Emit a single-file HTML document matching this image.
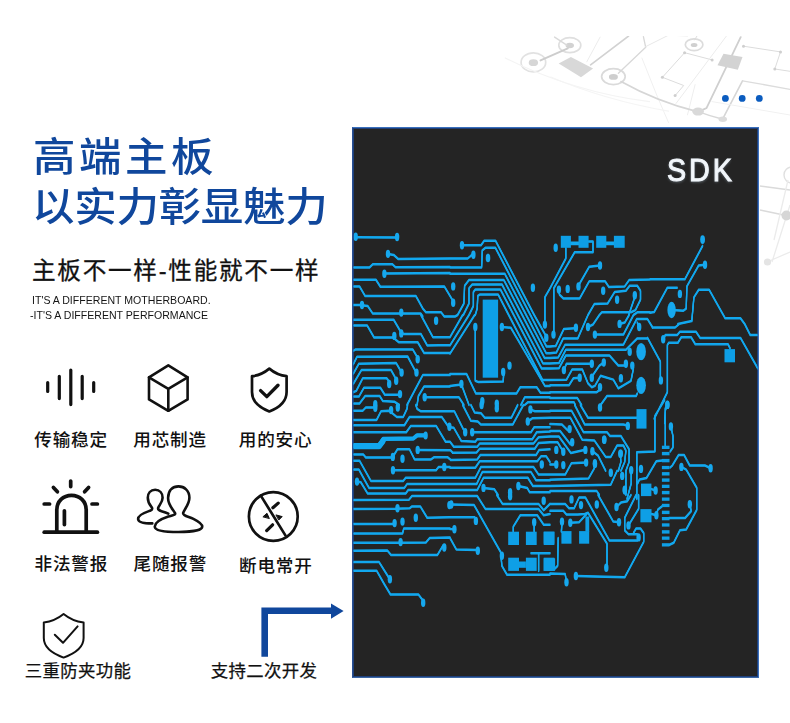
<!DOCTYPE html>
<html lang="zh-CN">
<head>
<meta charset="utf-8">
<title>高端主板</title>
<style>
html,body{margin:0;padding:0;background:#fff;}
body{width:790px;height:723px;position:relative;overflow:hidden;font-family:"Liberation Sans","Noto Sans CJK SC",sans-serif;color:#111;}
.abs{position:absolute;white-space:nowrap;}
.title{color:#10479c;font-size:39.5px;font-weight:500;line-height:44px;transform:scaleX(1.075);transform-origin:0 50%;}
#t1{left:32.8px;top:135px;letter-spacing:3.3px;}
#t2{left:32.2px;top:185px;letter-spacing:-0.25px;}
#sub{left:32px;top:255.6px;font-size:23.6px;font-weight:400;-webkit-text-stroke:0.3px #111;line-height:30px;color:#111;letter-spacing:1.75px;}
.en{font-size:11.2px;line-height:12px;color:#151515;transform:scaleX(0.945);transform-origin:0 0;}
#en1{left:32px;top:294px;}
#en2{left:30px;top:309px;}
.lab{font-size:17.6px;line-height:20px;font-weight:500;color:#111;letter-spacing:0.8px;}
.lab2{font-weight:400;font-size:17.4px;letter-spacing:0.35px;-webkit-text-stroke:0.25px #111;}
#panel{left:352px;top:127px;width:407px;height:551px;background:#242424;box-sizing:border-box;border:1px solid #3a70bd;border-left-color:#274f94;border-bottom-color:#3b67a6;box-shadow:inset 0 0 0 1px #1f3f78;}
#sdk{left:667px;top:152.6px;-webkit-text-stroke:1px #f1f6fb;font-size:31px;line-height:36px;color:#f2f6fa;letter-spacing:3.2px;font-weight:400;text-shadow:0 1px 3px rgba(200,225,245,.45);transform-origin:0 0;transform:scaleX(0.925);}
svg{position:absolute;left:0;top:0;overflow:visible;}
.ic{fill:none;stroke:#111;stroke-linecap:round;stroke-linejoin:round;}
</style>
</head>
<body>
<!--BG--><svg width="790" height="723" viewBox="0 0 790 723" id="bg" style="filter:blur(0.7px)">
<defs><clipPath id="bgc"><rect x="480" y="36" width="310" height="300"/></clipPath></defs><g clip-path="url(#bgc)">
<g fill="none" stroke="#dcdcdc" stroke-width="1.3" stroke-linecap="round">
<ellipse cx="533.4" cy="62.4" rx="12.3" ry="9.5" stroke="#e2e2e2" stroke-width="1.7"/>
<ellipse cx="533.4" cy="62.7" rx="4.674" ry="3.42" fill="#d6d6d6" stroke="none"/>
<ellipse cx="569.8" cy="45.2" rx="11" ry="7.5" stroke="#dfdfdf" stroke-width="1.7"/>
<ellipse cx="569.8" cy="45.5" rx="4.18" ry="2.7" fill="#d2d2d2" stroke="none"/>
<ellipse cx="613.4" cy="76.6" rx="11.8" ry="8" stroke="#dadada" stroke-width="1.7"/>
<ellipse cx="613.4" cy="76.9" rx="4.484" ry="2.88" fill="#cecece" stroke="none"/>
<ellipse cx="694.1" cy="44.7" rx="8.8" ry="5.9" stroke="#dcdcdc" stroke-width="1.7"/>
<ellipse cx="694.1" cy="45" rx="3.344" ry="2.124" fill="#d0d0d0" stroke="none"/>
<path d="M540.5 60.4L567.8 48.3" stroke="#cdcdcd" stroke-width="1.9"/>
<path d="M554.6 37.1L566.8 45.2" stroke="#dadada" stroke-width="1.4"/>
<path d="M590.6 64.8L628.6 36" stroke="#d2d2d2" stroke-width="1.6"/>
<path d="M618.4 73.2L645.7 47.3L643.4 36.7" stroke="#d8d8d8"/>
<path d="M740.7 37.1L706.5 108.1L698.1 111.9" stroke="#cfcfcf" stroke-width="1.8"/>
<path d="M742.5 80.8L722.6 119.1" stroke="#d6d6d6" stroke-width="1.6"/>
<path d="M712.1 59.9L684.6 52.7L662.4 77.3L683.7 85.5L675.1 95.6" stroke="#dcdcdc" stroke-width="1"/>
<path d="M743.5 46.2L780.5 51.9L774.8 69L790 71.3" stroke="#dcdcdc" stroke-width="1"/>
<path d="M742.5 80.8L790 89.3" stroke="#dcdcdc" stroke-width="1.3"/>
<path d="M726.4 36.1L676 103.5" stroke="#ececec" stroke-width="1"/>
<path d="M712 101.6L790 115" stroke="#f1f1f1" stroke-width="1"/>
<path d="M697 36L694.5 40" stroke="#dddddd" stroke-width="1"/>
<path d="M645.7 46.6L668.5 35.2L687.5 36" stroke="#e8e8e8" stroke-width="1"/>
<path d="M600.1 37.1L586.8 61.8" stroke="#ececec" stroke-width="1"/>
<path d="M695.1 84.6L687.5 114.9" stroke="#eeeeee" stroke-width="1"/>
<path d="M641.9 58L657.1 96L668.5 122.5" stroke="#f0f0f0" stroke-width="1"/>
<path d="M621 81.5Q657.1 101.7 698.1 111.9" stroke="#d6d6d6" stroke-width="1.6"/>
<path d="M505.2 58Q573.6 92.2 649.5 101.7" stroke="#f4f4f4" stroke-width="1.2"/>
<path d="M550.8 77Q603.9 99.8 668.5 111.2" stroke="#f5f5f5" stroke-width="1.2"/>
<path d="M698.1 111.6Q710 116 722.8 119.2" stroke="#d8d8d8" stroke-width="1.4"/>
</g>
<polygon points="558.7,63.5 570.9,57 593.1,68.5 581,77.2" fill="#d8d8d8"/>
<polygon points="723.5,53.8 742.5,57 737.8,69.7 717.5,65.2" fill="#d3d3d3"/>
<ellipse cx="698.1" cy="111.6" rx="5.8" ry="4" fill="#d9d9d9"/>
<ellipse cx="722.8" cy="119.2" rx="4.2" ry="2.8" fill="#dcdcdc"/>
<circle cx="684.6" cy="52.7" r="1.5" fill="#cfcfcf"/>
<circle cx="712.1" cy="59.9" r="1.5" fill="#cfcfcf"/>
<circle cx="662.4" cy="77.3" r="1.5" fill="#cfcfcf"/>
<circle cx="675.1" cy="95.6" r="1.5" fill="#cfcfcf"/>
<circle cx="743.5" cy="46.2" r="1.5" fill="#cfcfcf"/>
<circle cx="780.5" cy="51.9" r="1.5" fill="#cfcfcf"/>
<circle cx="774.8" cy="69" r="1.5" fill="#cfcfcf"/>
<g fill="none" stroke="#e0e0e0" stroke-width="1.3">
<circle cx="792" cy="175" r="8" stroke="#e0e0e0" stroke-width="1.4"/>
<path d="M760 186L790 190M760 210L786 215.5" stroke="#dadada" stroke-width="1.5"/>
<path d="M788 180L774 240M790 205L772 262M767 262L790 252" stroke="#ebebeb"/>
</g>
<circle cx="786.5" cy="215.5" r="5" fill="#d6d6d6"/><circle cx="767.5" cy="262" r="3.6" fill="#e4e4e4"/>
</g></svg><!--/BG-->
<div class="abs title" id="t1">高端主板</div>
<div class="abs title" id="t2">以实力彰显魅力</div>
<div class="abs" id="sub">主板不一样-性能就不一样</div>
<div class="abs en" id="en1">IT'S A DIFFERENT MOTHERBOARD.</div>
<div class="abs en" id="en2">-IT'S A DIFFERENT PERFORMANCE</div>

<div class="abs lab" style="left:34.3px;top:429.5px;">传输稳定</div>
<div class="abs lab" style="left:133.3px;top:429.5px;">用芯制造</div>
<div class="abs lab" style="left:238.8px;top:429.5px;">用的安心</div>
<div class="abs lab" style="left:34.5px;top:554px;">非法警报</div>
<div class="abs lab" style="left:133.5px;top:554px;">尾随报警</div>
<div class="abs lab" style="left:239px;top:555.5px;">断电常开</div>
<div class="abs lab lab2" style="left:24.8px;top:660.8px;">三重防夹功能</div>
<div class="abs lab lab2" style="left:210.8px;top:660.8px;">支持二次开发</div>

<svg width="790" height="723" viewBox="0 0 790 723" id="icons">
 <!-- waveform -->
 <g class="ic" stroke-width="3.2">
  <path d="M47.7 382.5V391.5M59.3 376.3V398.6M70.8 370V404.6M82.2 376.3V398.6M93.7 382.5V391.5"/>
 </g>
 <!-- cube -->
 <g class="ic" stroke-width="2.6">
  <path d="M168.3 365.4L187.6 377.4V399.4L168.3 410.8L149 399.4V377.4Z"/>
  <path d="M149 377.4L168.3 388.8L187.6 377.4M168.3 388.8V410.8"/>
 </g>
 <!-- shield check -->
 <g class="ic" stroke-width="2.7">
  <path d="M269.3 368.6C264 373 258 375.6 252 376.2V392C252 401 259 407.5 269.3 411.5C279.6 407.5 286.6 401 286.6 392V376.2C280.6 375.6 274.6 373 269.3 368.6Z"/>
  <path d="M260.6 390.6L266.8 396.6L278 385.2" stroke-width="3.4"/>
 </g>
 <!-- alarm -->
 <g class="ic" stroke-width="3.7">
  <path d="M44.2 532.2H97.4"/>
  <path d="M56.8 532V510C56.8 501.4 63.2 495.3 71.5 495.3C79.8 495.3 86.2 501.4 86.2 510V532" stroke-linecap="butt"/>
  <path d="M64.4 510.8V524.6"/>
  <path d="M70.7 481V486.6M53.4 487.4L57.4 491.8M88.6 487.4L84.6 491.8M44.2 504H49.6M92 504H97.4"/>
 </g>
 <!-- people -->
 <g class="ic" stroke-width="2.6" id="people">
  <path d="M175.1 513.2C172.8 509.2 167.7 504.6 168.1 497.8C168.3 489.8 172.8 486.4 178.5 486.4C184.2 486.4 189.4 490.4 189.4 497.8C189.4 504.6 184.2 509.2 183.1 513.2C183.1 516.0 188.8 516.6 193.4 518.9C199.0 521.7 202.5 524.0 202.2 526.8C201.9 530.8 188.8 532.0 178.5 532.0C168.3 532.0 155.2 531.4 154.8 526.8C154.6 522.8 161.5 518.9 168.3 516.6C172.8 515.1 175.7 514.9 175.1 513.2Z"/>
  <path d="M152.3 523.4C145.5 523.4 138.1 522.3 138.1 518.9C138.1 514.3 146.6 512.0 150.6 510.5C152.9 509.7 152.3 508.0 151.4 506.9C148.9 504.0 147.8 501.2 147.8 497.8C147.8 493.2 150.6 489.8 155.2 489.8C159.7 489.8 162.6 493.2 162.6 497.8C162.6 501.8 159.7 504.6 158.3 507.5C157.5 509.2 159.2 510.5 161.5 511.2C164.3 512.0 166.6 512.8 168.3 513.7"/>
 </g>
 <!-- prohibition -->
 <g class="ic" stroke-width="2.7">
  <circle cx="273.3" cy="516.5" r="24.4"/>
  <path d="M260.8 495.6L285.4 535.4"/>
  <path d="M272.9 507.8L278.2 503.1M266.7 530.6L272.6 524.8" stroke-width="3.2"/>
  <path d="M263.2 516.6L267 513.3L269.2 518.2ZM276.3 515L282.2 516.6L279 519.8Z" fill="#111" stroke-width="1"/>
 </g>
 <!-- thin shield -->
 <g class="ic" stroke-width="2">
  <path d="M63.6 614C58 618.6 51 621.6 43.8 622.6V638C43.8 647 52 653.4 63.6 657.6C75.2 653.4 83.6 647 83.6 638V622.6C76.4 621.6 69.2 618.6 63.6 614Z"/>
  <path d="M54.8 634.8L63 642.8L77.6 626.4"/>
 </g>
 <!-- arrow -->
 <path d="M261.4 656.8V607.4H331V603.4L343.6 611L331 618.7V614.1H268V656.8Z" fill="#10479c"/>
 <!-- dots -->
 <g fill="#0b5cbf"><circle cx="725.4" cy="98.4" r="3.4"/><circle cx="742.2" cy="98.4" r="3.4"/><circle cx="759.3" cy="98.4" r="3.4"/></g>
</svg>

<div class="abs" id="panel"></div>
<!--CIRCUIT--><svg width="790" height="723" viewBox="0 0 790 723" id="circuit">
<defs><clipPath id="cp"><rect x="353.5" y="128.5" width="404" height="548"/></clipPath></defs>
<g clip-path="url(#cp)">
<g id="tr" fill="none" stroke="#12a8ef" stroke-linejoin="round" stroke-linecap="round">
<path stroke-width="1.3" d="M355.7 237.3L397.1 237.5M388 253.9L393.7 254.9L398.1 258.9L450 258.5M353.2 267.4L369.6 267.4L372.8 264.2L392.4 264.2L395.6 267.3L450 267M384.4 273.5L450 273.1M353.2 279.7L375.9 279.7L380.4 286.8L444.3 286.4L453 300.9M353.2 286.4L359.5 286.4L365.2 296.1L415.8 295.9L422.8 308.5L425.9 312.3L441.1 312.3L444.3 316.4M353.2 305L359.5 305L367.7 306L372.8 313.6L420.9 313.6L422.8 316.4M444.3 316.5L450 316.5M420.9 315L432.9 337.2L450 337.2M353.2 319.8L393.7 319.8L400.6 331.5L403.8 334L420.9 334L427.2 345.4L450 345.1M353.2 325.4L367.1 325.4L374.1 337.5L393 337.5L398.7 342.2L417.7 342.2L424.1 353L450 353M353.2 350.7L355.7 349.4L412.7 349.4L417.1 356.8M353.2 364.4L357 356.8L407.6 356.5L415.2 370.7M353.2 373.9L358.9 363.7L396.2 363.1L400.6 370.7M353.2 384L361.4 370.1L391.1 370.1L394.9 377M353.2 392.2L356.3 390.9L362.7 378.3L386.7 378.3L388.6 380.8M353.2 396.6L358.9 396.6L363.9 387.8L380.4 387.8L384.8 394.7L398.1 394.7M353.2 403.6L359.5 403.6L365.2 396L379.7 396L382.9 401.1L394.3 401.7L399.4 405M407 405L422.8 375.1L450 375.1M417.1 405L418.4 396L424.1 386.5L450 386.5M424.7 397.3L450 397.3M353.2 410.7L362.7 410.7L365.8 407.5L373.4 407.5M353.2 419.9L376.6 419.9L381 411.3L389.2 410.7L396.8 417L403.2 417L407 408.8L407.6 405M415.8 405L417.1 408.8L420.9 411.3L450 411.3M353.2 425.3L404.4 425.3L409.5 417L441.8 417L447.5 425.3L450 427.2M353.2 432.2L406.3 432.2L410.8 425.9L436.1 425.9L445.6 441.7L450 441.7M353.2 454.4L363.3 454.4L365.8 457.5L392.4 457.5L397.5 449.3L409.5 449.3L414.6 459.4L431 459.4L434.2 457.2L447.5 457.2L450.8 459.9M417.7 449.9L450.5 450.2L452.8 452.8M353.2 460.7L359.5 460.7L370.9 480.9L403.2 480.9L405.7 477.8L450 477.8M393 470.2L436.1 470.2L438.6 467L450 467M353.2 469.6L358.9 469.6L369 487.9L404.4 487.9L407 484.1L450 484.1M357 481.6L360.8 482.2L367.7 493.6L405.7 493.6L408.2 490.1L450 490.1M353.2 500.1L408.9 499.8L412 496L450 496M353.2 508.9L395.6 508.7L409.5 508.3L412 506.4L420.3 506.4L427.2 517.8L450 517.2M353.2 523.9L393 523.9M353.2 533.6L402.5 533.6L403.8 528.5L450 528.5M353.2 542.8L398.7 542.8L425.9 542.5L429.7 538L450 537.4M353.2 550.7L387.3 550.4L391.1 555.1L437.3 555.1L443 545.6M353.2 562.1L379.1 562.1L388.6 577.3M353.2 570.7L376.6 570.7L384.8 585M384.8 585L390.5 594.5L418.4 594.5L422.8 600.2M462 245.3L481 245.3L484.2 240.8L495.6 240.8L534.2 315M450 258.5L467.7 258.5L472.2 254.7M450 267.4L481.6 267.4L482.3 250.3L485.4 247.8L495.4 247.8L530.4 315M450 273.7L504.7 273.7L526.2 315M457.6 315L463.9 303.5L464.6 285.8L469 280.1L503.9 280.1L522.2 315M463.3 315L469 303.5L469 288.3L472.2 284.5L502 284.5L517.8 315M469 315L473.4 306L473.4 292.1L475.3 289.6L500.5 289.6L513.7 315M475.3 315L477.2 308.5L477.8 295.9L479.7 294.6L498.2 294.6L508.7 315M550 288.3L544.9 297.2L544.9 315M475.3 327L475.3 380.8L478.5 382.1L503.2 381.5L503.8 372M501.9 327L510.8 327.7L544.9 385.9L550 385.9M457.6 315L455.1 316.5L450 316.5M544.9 315L544.9 322.6M462.7 315L450 337.2M469 315L450 345.4M474.7 315L450 353.6M450 373.9L466.5 373.9L475.9 393.5L516.5 393.5L520.3 387.2L536.7 387.2L540.5 392.8L550 392.8M450 385.9L461.4 384.4L469 405M450 397.3L458.9 397.3L463.9 405M520.9 405L524.7 397.3L550 397.3M524.7 405L527.8 402.3L550 402.3M534.2 315L546.3 336.5M530.4 315L546.5 346.5L550 346.5M526.2 315L546.2 353.2L550 353.2M522.2 315L544.6 358L550 358M517.8 315L543 363.4L550 363.4M513.7 315L541.6 368.5L550 368.5M508.7 315L542.5 379.9L550 379.9M450 411.3L454.4 411.3L463.3 429.1M462.7 405L470.9 420.8L477.8 421.5L481 424.6L512.7 424.6L523.4 405M470.9 405L474.7 412.6L481 413.2L484.8 417.7L511.4 417.7L517.7 405M472.2 432.2L531 432.2L534.2 427.2L550 427.2M450 427.2L453.8 427.8L461.4 441.1L475.3 441.7L477.2 439.2L532.3 439.2L536.7 432.2L550 431.6M450 441.7L453.8 446.8L477.2 446.8L479.7 443.6L533.5 443.6L538.6 437.3L550 436.6M452.5 452.8L476.6 452.5L479.7 448.7L534.8 448.7L538.6 443L550 442.3M450.5 459.9L477.2 459.4L480.4 455L536.1 455L539.2 449.9L550 449.3M450 467.7L475.3 467.7L479.7 461.3L537.3 461.3L541.1 456.3L546.2 456.3L550 462M450 477.8L475.3 477.8L481 467L533.5 467L538.6 474.6L550 474.6M450 484.1L476.6 484.1L482.3 472.1L531 472.1L536.1 480.3L550 480.3M450 490.1L477.2 490.1L483.5 477.8L527.8 477.8L532.9 486L550 486M483.5 487.9L494.3 489.2L498.1 495M518.4 486L527.2 487.9L529.7 492.3L550 492.3M530.4 409.4L534.8 411.3L550 411.3M527.8 421.5L532.3 418.3L550 417.7M450 496L477.2 496L485.4 508.9L538.6 508.9L543.7 515.3L550 514M496.8 495L502.5 503.9L538.6 503.9L543.7 510.2L550 503.9M451.3 504.5L474.1 505.1L500.6 552L501.9 565.9L507 574.7L550 574.7M450 517.2L474.7 517.2M450 528.9L454.4 529.2M450 538L456.3 549.4L477.2 550.1M513.3 531.7L513.3 526.6L520.3 515.3L537.3 515.3L543.7 524.7L550 524.7M531 553.2L550 553.2M538.6 553.2L538.6 570.9M534.2 522.2L534.2 531.7M588.6 241.5L593 241.5L593 252.2L574.7 252.2L553.8 288.3L553.8 315M565.8 247.8L565.8 258.5L550 288.3M600 265.5L589.2 266.8L579.1 284.5M558.9 289.6L559.5 294.6L563.3 298.4L579.7 298.4L589.2 281.3L605.1 281.3L608.9 287L624.7 286.4L629.1 280.1L650 279.4M588 315L594.3 304.1L607.6 303.5L614.6 292.1L625.9 290.8L629.7 285.8L637.3 285.8L640.5 290.8L640.5 299.7L635.4 310.1L631 312.3L601.9 312.3L599.4 315M634.8 297.2L628.7 315M633.5 315L637.3 312.3L650 312.3M553.8 315L553.8 331.5M550 346.5L555.7 346L563.9 328.9L574.7 328.3M550 353.2L556.3 352.6L563.3 338.4L577.8 338.4L588 315M588 327L593 324.5L599.4 315M594.9 334.6L623.4 334.6L633.5 315M619.6 323.9L624.7 322.6L629.1 315M550 358L558.2 357.4L565.2 344.7L623.4 344.7L636.7 319.1L647.5 319.1L652.8 327.7M639.2 327L637.3 322.6M550 363.4L558.9 363.1L565.8 349.8L625.9 349.8L637.3 338.4L647.5 338.4M550 368.5L558.9 368.3L565.8 355.5L609.5 355.5L618.4 365.6L624.7 365.6M563.9 370.1L566.5 363.7L590.5 363.7M550 379.9L566.5 379.7L572.2 369.4L582.3 369.4L588 383.4L591.8 387.2L594.9 385.9L600.6 375.8L613.3 379.6L618.4 388.4L631 380.8L633.5 368.2M603.8 362.5L599.4 365.6L592.4 375.8M550 385.3L569 385.3L573.4 378.3L579.7 377.7M550 392.2L596.8 392.2L600 389.7M550 397.9L577.2 397.9L581.6 405M637.3 393.5L636.1 396L607 396L600.6 405M550 402.3L574.1 402.3L575.3 405M580.4 405L588 417.7L637.3 417.7M574.7 405L584.8 424.6L623.4 424.6L627.2 425.6M550 410.7L571.5 410.7L583.5 432.2L607 432.2L610.1 436L620.9 436L629.1 449.3L629.1 462L625.9 470.8L625.9 495M550 417.7L570.3 417.7L582.3 439.8L594.3 440.4L605.7 456.9L610.8 456.9L617.1 445.5L623.4 445.5L625.9 450.6L624.7 462L620.9 470.8M550 424L562 424.6L567.7 430.3M550 430.9L560.1 430.9L570.3 444.2M550 436.6L558.9 436.6L570.9 453.1L584.2 449.9M550 442.3L557.6 442.3L562.7 450.6M592.4 451.2L598.1 455.6L605.7 470.8M620.3 453.7L620.9 462L618.4 470.8M550 464.5L556.3 464.5M586.1 462.6L571.5 463.2L565.2 474.6L550 474.6M594.9 463.2L594.3 468.3L588.6 478.4L550 479.7M550 486L610.8 484.7L617.1 470.8M550 491.1L596.8 491.1L599.4 495M550 503.9L565.2 503.9L569 508.3L574.1 508.3L579.1 497.5L585.4 497.5L609.5 540.6L637.3 540.6M550 510.8L563.3 510.8L566.5 514.6L577.8 514.6L584.8 514L588 512.7L607 543.7L607 564.6M598.1 495L613.3 521.6L619 522.2M616.5 507L620.9 502.6L627.2 501.3L631 495M636.1 495L624.7 517.8L624.7 530.4L628.5 534.2L637.3 534.2M638.6 495L638.6 508.9L628.5 525.4M575.9 576L624.7 577.3L643.7 541.8L643.7 533L640.5 528.5L636.1 528.5L633.5 533M562 521.6L561.4 531.7M558.2 538L557.6 565.9L555.1 568.4M570.3 522.8L579.1 522.2L586.7 514M550 573.5L565.2 574.1L566.5 582.3M702.6 245.9L684.8 279.3L650 279.3M705 264.7L698.7 265.4L686.9 286.3L686.2 308.6L683.4 310.7L671.6 310M650 312.7L654.2 312L667.4 287.7L677.2 287.7M677.9 324L691.8 321.1L693.9 297.4L698.7 289.8L709.2 289.8L725.2 318.3L740.5 318.3L744.7 324M652.4 327.6L675.1 327.5L679.2 324M744.7 324L750.3 335.1L757.9 335.1M663.2 339.3L665.3 335.1L677.2 335.1L679.9 331.7L696 331.7L700.1 337.9L740.5 337.9L757.9 368.6M654.2 418.7L667.4 392.2L667.4 344.9L668.8 342.8L677.9 342.8L681.3 337.2L691.1 337.2L695.3 344.2L728 344.2L730.1 348.4M647.5 337.9L660.4 361.6L660.4 376.9M667.4 404.8L665.3 410.4L664.6 423M667.4 404.9L665.3 408.4L665.3 446M670.9 426.5L673 436.2L673 447.4L670.2 451.5M664.6 400L654.9 416L654.9 451.5L636.8 452.2L636.8 499M670.2 467.5L672.3 465.5L678.6 455L684.1 455L689.7 465.5L705 465.5M705 465.5L710.6 468.2M681.4 466.9L686.2 469.6L696.7 487.7L696.7 510L686.2 529.5L680 530.2L673.7 542.8L669.5 544.8M661.9 460.6L656.3 461.3L646.5 478L639.6 479.4L637.5 483.6M651.4 489.1L655.6 490.5M631.2 472.4L631.2 483.6L627 499M651.5 513.9L656.4 515.3L657.8 509.7L662 506.3M689.8 504.2L691.2 511.1L685 518.1L668.9 518.1"/>
<path stroke-width="5" d="M353.2 446.1L379.1 446.1L382.9 441.1"/>
<path stroke-width="3.2" d="M379.1 446.1L383.2 438.9L413.3 438.5L417.1 435.4L424.7 435.4"/>
<path stroke-width="2.4" d="M570.9 243.4L578.5 243.4M606.3 243.4L613.9 243.4"/>
</g>
<use href="#tr" y="0.6"/><use href="#tr" y="-0.6"/>
<g fill="#0e9fe6">
<rect x="482.7" y="299.6" width="15.4" height="78.1"/>
<rect x="508.2" y="531.7" width="10.8" height="13.3"/>
<rect x="525.9" y="531.7" width="10.8" height="13.3"/>
<rect x="543.7" y="531.7" width="10.7" height="13.3"/>
<rect x="508.2" y="557.7" width="10.8" height="13.2"/>
<rect x="519" y="561.5" width="6.9" height="6.3"/>
<rect x="525.9" y="557.7" width="10.8" height="13.2"/>
<rect x="543.7" y="557.7" width="10.7" height="13.2"/>
<rect x="560.8" y="235.8" width="10.1" height="12"/>
<rect x="578.5" y="235.8" width="10.1" height="12"/>
<rect x="596.2" y="235.8" width="10.1" height="12"/>
<rect x="613.9" y="235.8" width="10.8" height="12"/>
<rect x="561.4" y="531.1" width="10.1" height="12.6"/>
<rect x="579.1" y="531.1" width="10.1" height="12.6"/>
<rect x="585.4" y="516.5" width="3.8" height="15.2"/>
<rect x="543.7" y="531.7" width="10.7" height="12"/>
<rect x="543.7" y="558.3" width="11.4" height="12.6"/>
<rect x="724.5" y="349.1" width="10.5" height="13.2"/>
<rect x="636.5" y="409.1" width="10" height="19.5"/>
<rect x="661.9" y="445.7" width="7.6" height="3.3"/>
<rect x="661.9" y="451.9" width="7.6" height="3.4"/>
<rect x="661.9" y="458.9" width="7.6" height="3.4"/>
<rect x="661.9" y="465.9" width="7.6" height="3.3"/>
<rect x="661.9" y="472.1" width="7.6" height="3.4"/>
<rect x="661.9" y="478.4" width="7.6" height="3.4"/>
<rect x="661.9" y="484.7" width="7.6" height="3.3"/>
<rect x="661.9" y="490.9" width="7.6" height="3.4"/>
<rect x="661.9" y="497.5" width="7.6" height="3.3"/>
<rect x="661.9" y="503.8" width="7.6" height="3.3"/>
<rect x="661.9" y="510.7" width="7.6" height="3.4"/>
<rect x="661.9" y="517" width="7.6" height="3.3"/>
<rect x="661.9" y="523.3" width="7.6" height="3.3"/>
<rect x="661.9" y="530.2" width="7.6" height="3.4"/>
<rect x="661.9" y="536.5" width="7.6" height="3.3"/>
<rect x="661.9" y="543.2" width="7.6" height="3.3"/>
<rect x="641" y="483.6" width="10.4" height="12.5"/>
<rect x="640.4" y="509.1" width="11.1" height="13.2"/>
</g><g fill="#16a8ee">
<ellipse cx="355.7" cy="236.8" rx="2.2" ry="4.2"/>
<ellipse cx="397.1" cy="237" rx="2.2" ry="4.2"/>
<ellipse cx="388" cy="253.9" rx="2.2" ry="4.2"/>
<ellipse cx="384.4" cy="273.7" rx="2.2" ry="4.2"/>
<ellipse cx="362" cy="305" rx="2.2" ry="4.2"/>
<ellipse cx="401.3" cy="312.6" rx="2.2" ry="4.2"/>
<ellipse cx="436.1" cy="320.7" rx="2.2" ry="4.2"/>
<ellipse cx="401.3" cy="333.4" rx="2.2" ry="4.2"/>
<ellipse cx="394.3" cy="335.9" rx="2.2" ry="4.2"/>
<ellipse cx="417.7" cy="359.3" rx="2.2" ry="4.2"/>
<ellipse cx="416.5" cy="372.6" rx="2.2" ry="4.2"/>
<ellipse cx="401.6" cy="372.6" rx="2.2" ry="4.2"/>
<ellipse cx="396.2" cy="380.8" rx="2.2" ry="4.2"/>
<ellipse cx="389.2" cy="384" rx="2.2" ry="4.2"/>
<ellipse cx="400" cy="394.1" rx="2.2" ry="4.2"/>
<ellipse cx="424.7" cy="397.3" rx="2.2" ry="4.2"/>
<ellipse cx="375.3" cy="404.2" rx="2.2" ry="4.2"/>
<ellipse cx="375.3" cy="407.8" rx="2.2" ry="4.2"/>
<ellipse cx="391.1" cy="410.1" rx="2.2" ry="4.2"/>
<ellipse cx="397.8" cy="407.5" rx="2.2" ry="4.2"/>
<ellipse cx="449.4" cy="426.8" rx="2.2" ry="4.2"/>
<ellipse cx="425.6" cy="435.4" rx="2.2" ry="4"/>
<ellipse cx="392.8" cy="456.9" rx="2.2" ry="4.2"/>
<ellipse cx="402.5" cy="458.8" rx="2.2" ry="4.2"/>
<ellipse cx="417.7" cy="449.9" rx="2.2" ry="4.2"/>
<ellipse cx="393" cy="470.2" rx="2.2" ry="4.2"/>
<ellipse cx="444.3" cy="467" rx="2.2" ry="4.2"/>
<ellipse cx="357" cy="481.6" rx="2.2" ry="4.2"/>
<ellipse cx="397.5" cy="508.3" rx="2.2" ry="4.2"/>
<ellipse cx="415.8" cy="517.8" rx="2.2" ry="4.2"/>
<ellipse cx="394.6" cy="523.1" rx="2.2" ry="4.2"/>
<ellipse cx="402.5" cy="521.6" rx="2.2" ry="4.2"/>
<ellipse cx="400.6" cy="542.1" rx="2.2" ry="4.2"/>
<ellipse cx="444.3" cy="547.5" rx="2.2" ry="4.2"/>
<ellipse cx="389.9" cy="579.2" rx="2.2" ry="4.2"/>
<ellipse cx="449.4" cy="505.1" rx="2.2" ry="4.2"/>
<ellipse cx="423.2" cy="602.7" rx="2.2" ry="4.2"/>
<ellipse cx="462" cy="245.3" rx="2.2" ry="4.2"/>
<ellipse cx="473.4" cy="254.7" rx="2.2" ry="4.2"/>
<ellipse cx="488" cy="257.9" rx="2.3" ry="4.4"/>
<ellipse cx="453.2" cy="286.4" rx="2.2" ry="4.2"/>
<ellipse cx="453.2" cy="302.8" rx="2.2" ry="4.2"/>
<ellipse cx="532.9" cy="287.7" rx="2.2" ry="4.2"/>
<ellipse cx="475.3" cy="327" rx="2.2" ry="4.2"/>
<ellipse cx="503.2" cy="372" rx="2.2" ry="4.2"/>
<ellipse cx="509.5" cy="365.6" rx="2.2" ry="4.2"/>
<ellipse cx="501.9" cy="327" rx="2.2" ry="4.2"/>
<ellipse cx="544.9" cy="324.6" rx="2.2" ry="4.2"/>
<ellipse cx="461.4" cy="384" rx="2.2" ry="4.2"/>
<ellipse cx="482.3" cy="401.1" rx="2.2" ry="4.2"/>
<ellipse cx="496.8" cy="403.6" rx="2.2" ry="4.2"/>
<ellipse cx="546.3" cy="337.8" rx="2.2" ry="4.2"/>
<ellipse cx="465.2" cy="432.2" rx="2.2" ry="4.2"/>
<ellipse cx="472.2" cy="432.2" rx="2.2" ry="4.2"/>
<ellipse cx="541.8" cy="464.5" rx="2.2" ry="4.2"/>
<ellipse cx="483.5" cy="487.9" rx="2.2" ry="4.2"/>
<ellipse cx="518.4" cy="486" rx="2.2" ry="4.2"/>
<ellipse cx="510.1" cy="492.3" rx="2.2" ry="4.2"/>
<ellipse cx="530.4" cy="409.4" rx="2.2" ry="4.2"/>
<ellipse cx="527.8" cy="421.5" rx="2.2" ry="4.2"/>
<ellipse cx="496.8" cy="408.2" rx="2.2" ry="4.2"/>
<ellipse cx="481.6" cy="405" rx="2.2" ry="4.2"/>
<ellipse cx="451.3" cy="504.5" rx="2.2" ry="4.2"/>
<ellipse cx="501.9" cy="555.8" rx="2.2" ry="4.2"/>
<ellipse cx="475.9" cy="520.9" rx="2.2" ry="4.2"/>
<ellipse cx="454.4" cy="529.2" rx="2.2" ry="4.2"/>
<ellipse cx="477.8" cy="550.7" rx="2.2" ry="4.2"/>
<ellipse cx="534.2" cy="522.2" rx="2.2" ry="4.2"/>
<ellipse cx="543.7" cy="500.7" rx="2.2" ry="4.2"/>
<ellipse cx="510.1" cy="496.3" rx="2.2" ry="4.2"/>
<ellipse cx="555.7" cy="247.8" rx="2.2" ry="4.2"/>
<ellipse cx="600" cy="265.5" rx="2.2" ry="4.2"/>
<ellipse cx="578.5" cy="286.4" rx="2.2" ry="4.2"/>
<ellipse cx="558.9" cy="289.6" rx="2.2" ry="4.2"/>
<ellipse cx="567.7" cy="288.9" rx="2.2" ry="4.2"/>
<ellipse cx="603.2" cy="290.8" rx="2.2" ry="4.2"/>
<ellipse cx="634.8" cy="295.3" rx="2.2" ry="4.2"/>
<ellipse cx="617.1" cy="299.7" rx="2.2" ry="4.2"/>
<ellipse cx="553.5" cy="334.6" rx="2.2" ry="4.2"/>
<ellipse cx="575.9" cy="327.7" rx="2.2" ry="4.2"/>
<ellipse cx="588" cy="327" rx="2.2" ry="4.2"/>
<ellipse cx="594.9" cy="334.6" rx="2.2" ry="4.2"/>
<ellipse cx="619.6" cy="323.9" rx="2.2" ry="4.2"/>
<ellipse cx="639.2" cy="327" rx="2.2" ry="4.2"/>
<ellipse cx="629.7" cy="351.7" rx="2.2" ry="4.2"/>
<ellipse cx="641.1" cy="351.7" rx="4.8" ry="8.6"/>
<ellipse cx="625.9" cy="363.7" rx="2.2" ry="4.2"/>
<ellipse cx="563.9" cy="370.1" rx="2.2" ry="4.2"/>
<ellipse cx="591.8" cy="363.7" rx="2.2" ry="4.2"/>
<ellipse cx="632.3" cy="365.6" rx="2.2" ry="4.2"/>
<ellipse cx="603.8" cy="362.5" rx="2.2" ry="4.2"/>
<ellipse cx="591.8" cy="377.7" rx="2.2" ry="4.2"/>
<ellipse cx="579.7" cy="377.7" rx="2.2" ry="4.2"/>
<ellipse cx="600" cy="387.2" rx="2.2" ry="4.2"/>
<ellipse cx="620.9" cy="378.3" rx="2.2" ry="4.2"/>
<ellipse cx="641.1" cy="385.3" rx="4.8" ry="8.6"/>
<ellipse cx="627.8" cy="425.9" rx="2.2" ry="4.2"/>
<ellipse cx="622.2" cy="475.9" rx="2.2" ry="4.2"/>
<ellipse cx="569.6" cy="429.1" rx="2.2" ry="4.2"/>
<ellipse cx="572.2" cy="442.3" rx="2.2" ry="4.2"/>
<ellipse cx="585.4" cy="449.9" rx="2.2" ry="4.2"/>
<ellipse cx="556.3" cy="449.9" rx="2.2" ry="4.2"/>
<ellipse cx="563.3" cy="451.8" rx="2.2" ry="4.2"/>
<ellipse cx="592.4" cy="451.2" rx="2.2" ry="4.2"/>
<ellipse cx="610.8" cy="472.7" rx="2.2" ry="4.2"/>
<ellipse cx="604.4" cy="439.8" rx="2.2" ry="4.2"/>
<ellipse cx="620.3" cy="453.7" rx="2.2" ry="4.2"/>
<ellipse cx="556.3" cy="464.5" rx="2.2" ry="4.2"/>
<ellipse cx="563.3" cy="465.1" rx="2.2" ry="4.2"/>
<ellipse cx="586.1" cy="462.6" rx="2.2" ry="4.2"/>
<ellipse cx="594.9" cy="463.2" rx="2.2" ry="4.2"/>
<ellipse cx="600" cy="407.5" rx="2.2" ry="4.2"/>
<ellipse cx="624.7" cy="489.8" rx="2.2" ry="4.2"/>
<ellipse cx="638.6" cy="537.4" rx="2.2" ry="4.2"/>
<ellipse cx="606.3" cy="567.8" rx="2.2" ry="4.2"/>
<ellipse cx="571.5" cy="499.4" rx="2.2" ry="4.2"/>
<ellipse cx="581" cy="505.1" rx="2.2" ry="4.2"/>
<ellipse cx="596.8" cy="504.5" rx="2.2" ry="4.2"/>
<ellipse cx="616.5" cy="507" rx="2.2" ry="4.2"/>
<ellipse cx="562" cy="521.6" rx="2.2" ry="4.2"/>
<ellipse cx="570.3" cy="522.8" rx="2.2" ry="4.2"/>
<ellipse cx="619" cy="522.2" rx="2.2" ry="4.2"/>
<ellipse cx="628.5" cy="525.4" rx="2.2" ry="4.2"/>
<ellipse cx="575.9" cy="576" rx="2.2" ry="4.2"/>
<ellipse cx="566.5" cy="582.3" rx="2.2" ry="4.2"/>
<ellipse cx="702.6" cy="239.6" rx="2.4" ry="4.4"/>
<ellipse cx="705" cy="264.7" rx="2.2" ry="4.2"/>
<ellipse cx="671.6" cy="310" rx="4.2" ry="8.2"/>
<ellipse cx="679.9" cy="293.9" rx="2.2" ry="4.2"/>
<ellipse cx="663.2" cy="339.3" rx="2.2" ry="4.2"/>
<ellipse cx="660.9" cy="380.4" rx="2.2" ry="4.2"/>
<ellipse cx="667.4" cy="404.8" rx="2.2" ry="4.2"/>
<ellipse cx="667.4" cy="404.9" rx="2.2" ry="4.2"/>
<ellipse cx="670.9" cy="426.5" rx="2.2" ry="4.2"/>
<ellipse cx="710.6" cy="468.2" rx="2.2" ry="4.2"/>
<ellipse cx="681.4" cy="466.9" rx="2.2" ry="4.2"/>
<ellipse cx="655.6" cy="490.5" rx="2.2" ry="4.2"/>
<ellipse cx="631.2" cy="470.3" rx="2.2" ry="4.2"/>
<ellipse cx="641" cy="468.9" rx="2.2" ry="4.2"/>
<ellipse cx="604.1" cy="439.7" rx="2.2" ry="4.2"/>
<ellipse cx="620.8" cy="453.6" rx="2.2" ry="4.2"/>
<ellipse cx="624.9" cy="490.5" rx="2.2" ry="4.2"/>
<ellipse cx="595" cy="464.1" rx="2.2" ry="4.2"/>
<ellipse cx="656.4" cy="515.3" rx="2.2" ry="4.2"/>
<ellipse cx="689.8" cy="504.2" rx="2.2" ry="4.2"/>
</g></g></svg><!--/CIRCUIT-->
<div class="abs" id="sdk">SDK</div>
</body>
</html>
